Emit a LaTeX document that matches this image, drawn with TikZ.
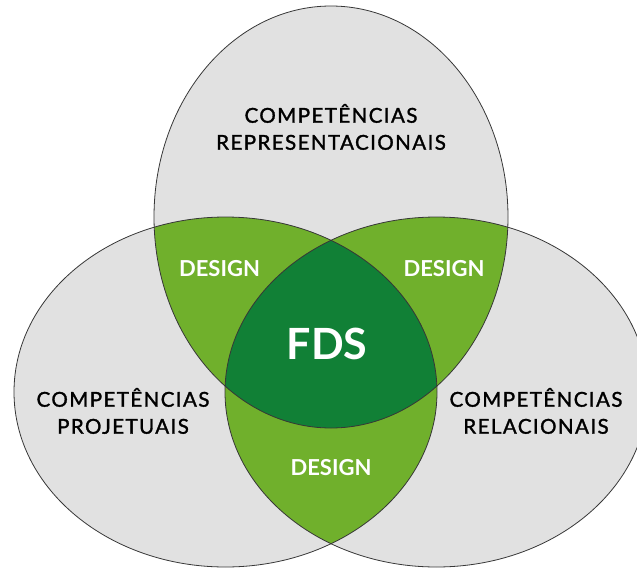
\documentclass[tikz,border=0pt]{standalone}
\usepackage{fontspec}
\setmainfont{Lato}
\newfontfamily\compfont{Lato}[LetterSpace=7,FakeBold=1.5]
\definecolor{vennGray}{RGB}{225,225,225}
\definecolor{designGreen}{RGB}{112,176,44}
\definecolor{fdsGreen}{RGB}{17,128,54}
\definecolor{rimGray}{RGB}{55,55,55}

\begin{document}
\begin{tikzpicture}[x=1pt,y=-1pt,
  topRad/.style={x radius=177,y radius=211},
  sideRad/.style={x radius=211.5,y radius=175},
  rim/.style={draw=rimGray,line width=0.8pt},
  compLabel/.style={align=center,text=black,font=\compfont\fontsize{20.5}{27}\selectfont},
  designLabel/.style={text=white,font=\bfseries\fontsize{22}{26}\selectfont}]
  \useasboundingbox (0,0) rectangle (637,570);

  % centres of the three ellipses
  \coordinate (T) at (331,217);
  \coordinate (L) at (225.5,392);
  \coordinate (R) at (436.5,392);

  % grey discs
  \fill[vennGray] (T) ellipse[topRad];
  \fill[vennGray] (L) ellipse[sideRad];
  \fill[vennGray] (R) ellipse[sideRad];

  % pairwise overlaps
  \begin{scope}
    \clip (T) ellipse[topRad];
    \fill[designGreen] (L) ellipse[sideRad];
    \fill[designGreen] (R) ellipse[sideRad];
  \end{scope}
  \begin{scope}
    \clip (L) ellipse[sideRad];
    \fill[designGreen] (R) ellipse[sideRad];
  \end{scope}

  % centre overlap
  \begin{scope}
    \clip (T) ellipse[topRad];
    \clip (L) ellipse[sideRad];
    \fill[fdsGreen] (R) ellipse[sideRad];
  \end{scope}

  % outlines
  \draw[rim] (T) ellipse[topRad];
  \draw[rim] (L) ellipse[sideRad];
  \draw[rim] (R) ellipse[sideRad];

  % labels
  \node[compLabel] (repr) at (331,127) {COMPETÊNCIAS\\REPRESENTACIONAIS};
  \node[compLabel] (proj) at (123,411) {COMPETÊNCIAS\\PROJETUAIS};
  \node[compLabel] (rela) at (536,411) {COMPETÊNCIAS\\RELACIONAIS};
  \node[designLabel] (dTL) at (219.5,269) {DESIGN};
  \node[designLabel] (dTR) at (444,269) {DESIGN};
  \node[designLabel] (dB) at (331,468) {DESIGN};
  \node[text=white,font=\bfseries\fontsize{43}{48}\selectfont] (fds) at (327,344) {FDS};
\end{tikzpicture}
\end{document}
